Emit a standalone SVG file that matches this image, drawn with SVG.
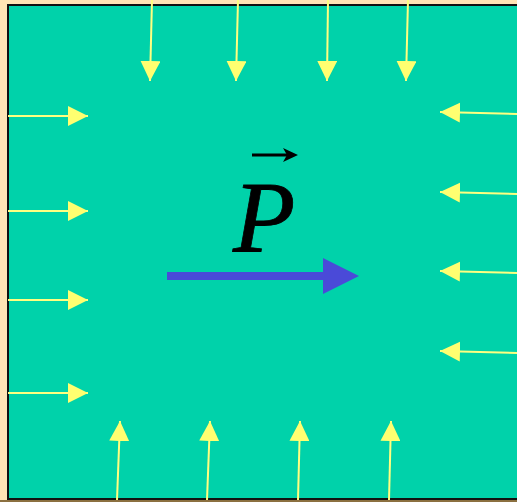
<svg xmlns="http://www.w3.org/2000/svg" width="517" height="502" viewBox="0 0 517 502">
<style>
.f{stroke:#FFFF80;stroke-width:2;fill:none}
</style>
<defs>
<marker id="ya" viewBox="0 0 20 20" refX="20" refY="10" markerWidth="20" markerHeight="20" markerUnits="userSpaceOnUse" orient="auto"><path d="M0,0L20,10L0,20Z" fill="#FFFF70"/></marker>
</defs>
<rect width="517" height="502" fill="#FFE4B5"/>
<rect x="8" y="5" width="512" height="494" fill="#00D2AA" stroke="#111" stroke-width="2"/>
<rect x="0" y="500" width="517" height="2" fill="#8B7040"/>
<g id="connectors">
<line class="f" x1="152" y1="0" x2="150" y2="81" marker-end="url(#ya)"/>
<line class="f" x1="238" y1="0" x2="236" y2="81" marker-end="url(#ya)"/>
<line class="f" x1="328" y1="0" x2="327" y2="81" marker-end="url(#ya)"/>
<line class="f" x1="408" y1="0" x2="406" y2="81" marker-end="url(#ya)"/>
<line class="f" x1="8" y1="116" x2="88" y2="116" marker-end="url(#ya)"/>
<line class="f" x1="8" y1="211" x2="88" y2="211" marker-end="url(#ya)"/>
<line class="f" x1="8" y1="300" x2="88" y2="300" marker-end="url(#ya)"/>
<line class="f" x1="8" y1="393" x2="88" y2="393" marker-end="url(#ya)"/>
<line class="f" x1="517" y1="114" x2="440" y2="112" marker-end="url(#ya)"/>
<line class="f" x1="517" y1="194" x2="440" y2="192" marker-end="url(#ya)"/>
<line class="f" x1="517" y1="273" x2="440" y2="271" marker-end="url(#ya)"/>
<line class="f" x1="517" y1="353" x2="440" y2="351" marker-end="url(#ya)"/>
<line class="f" x1="117" y1="500" x2="120" y2="421" marker-end="url(#ya)"/>
<line class="f" x1="207" y1="500" x2="210" y2="421" marker-end="url(#ya)"/>
<line class="f" x1="298" y1="500" x2="300" y2="421" marker-end="url(#ya)"/>
<line class="f" x1="389" y1="500" x2="391" y2="421" marker-end="url(#ya)"/>
</g>
<g id="polarization">
<rect x="167" y="272" width="158" height="8" fill="#4A4AD8"/>
<path d="M323,258L359,276L323,294Z" fill="#4A4AD8"/>
</g>
<g id="label">
<text x="233" y="252" font-family="Liberation Serif, serif" font-style="italic" font-size="102" fill="#000" stroke="#000" stroke-width="0.8">P</text>
<line x1="252" y1="155" x2="290" y2="155" stroke="#000" stroke-width="3"/>
<path d="M283,148L298,155L283,162L287,155Z" fill="#000"/>
</g>
</svg>
